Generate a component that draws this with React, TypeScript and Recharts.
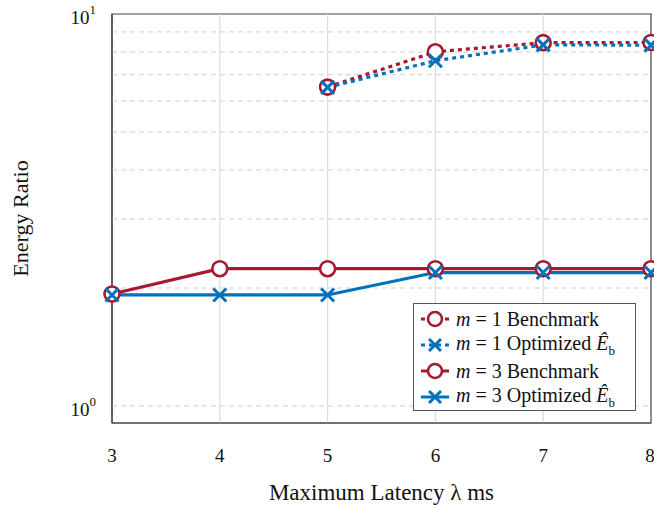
import { LineChart, Line, XAxis, YAxis, ReferenceLine, ReferenceArea } from "recharts";

const latency = [3, 4, 5, 6, 7, 8];
const benchM1 = [null, null, 6.51, 8.01, 8.45, 8.46];
const optM1 = [null, null, 6.5, 7.6, 8.34, 8.33];
const benchM3 = [1.93, 2.24, 2.24, 2.24, 2.24, 2.24];
const optM3 = [1.92, 1.92, 1.92, 2.19, 2.19, 2.19];

const xTicks = [3, 4, 5, 6, 7, 8];
const yTicks = [1, 10];
const yGrid = [1, 2, 3, 4, 5, 6, 7, 8, 9];
const xGrid = [4, 5, 6, 7];

const RED = "#A6192E";
const BLUE = "#0072BD";
const FONT = "'Liberation Serif', serif";

const data = latency.map((x, i) => ({
  x,
  b1: benchM1[i],
  o1: optM1[i],
  b3: benchM3[i],
  o3: optM3[i],
}));

function CircleDot(props: any) {
  const { cx, cy, index, value } = props;
  if (value == null || cy == null) return <g key={index} />;
  return <circle key={index} cx={cx} cy={cy} r={7.5} fill="#fff" stroke={RED} strokeWidth={2.6} />;
}

function CrossDot(props: any) {
  const { cx, cy, index, value } = props;
  if (value == null || cy == null) return <g key={index} />;
  const s = 6.5;
  return (
    <g key={index} stroke={BLUE} strokeWidth={3}>
      <line x1={cx - s} y1={cy - s} x2={cx + s} y2={cy + s} />
      <line x1={cx - s} y1={cy + s} x2={cx + s} y2={cy - s} />
    </g>
  );
}

function XTick({ x, y, payload }: any) {
  return (
    <text x={x} y={y + 24} textAnchor="middle" dominantBaseline="central" fontFamily={FONT} fontSize={19} fill="#111">
      {payload.value}
    </text>
  );
}

function YTick({ y, payload }: any) {
  const exp = Math.round(Math.log10(payload.value));
  return (
    <text x={96} y={y + 3} textAnchor="end" dominantBaseline="central" fontFamily={FONT} fontSize={19} fill="#111">
      10<tspan dy={-8} fontSize={13}>{exp}</tspan>
    </text>
  );
}

function YLabel({ viewBox }: any) {
  const cx = 20;
  const cy = viewBox.y + viewBox.height / 2;
  return (
    <text
      x={cx}
      y={cy}
      transform={`rotate(-90, ${cx}, ${cy})`}
      textAnchor="middle"
      dominantBaseline="central"
      fontFamily={FONT}
      fontSize={22}
      fill="#111"
    >
      Energy Ratio
    </text>
  );
}

const legendItems = [
  { label: "Benchmark", m: 1, color: RED, dash: true, circle: true },
  { label: "Optimized", m: 1, color: BLUE, dash: true, circle: false },
  { label: "Benchmark", m: 3, color: RED, dash: false, circle: true },
  { label: "Optimized", m: 3, color: BLUE, dash: false, circle: false },
];

function LegendBox() {
  return (
    <div
      style={{
        position: "absolute",
        left: 413,
        top: 303,
        boxSizing: "border-box",
        width: 223,
        height: 108,
        border: "1px solid #555",
        background: "#fff",
        padding: "2px 6px",
        fontFamily: FONT,
        fontSize: 20,
        color: "#111",
      }}
    >
      {legendItems.map((it, i) => (
        <div key={i} style={{ display: "flex", alignItems: "center", height: 26, whiteSpace: "nowrap" }}>
          <svg width={30} height={20} style={{ marginRight: 6, flexShrink: 0 }}>
            <line x1={1} y1={10} x2={29} y2={10} stroke={it.color} strokeWidth={3} strokeDasharray={it.dash ? "4 4" : undefined} />
            {it.circle ? (
              <circle cx={15} cy={10} r={7} fill="#fff" stroke={it.color} strokeWidth={2.6} />
            ) : (
              <g stroke={it.color} strokeWidth={3}>
                <line x1={9} y1={4} x2={21} y2={16} />
                <line x1={9} y1={16} x2={21} y2={4} />
              </g>
            )}
          </svg>
          <span>
            <i>m</i> = {it.m} {it.label}
            {!it.circle && (
              <>
                {" "}
                <i>Ê</i>
                <sub style={{ fontSize: 13 }}>b</sub>
              </>
            )}
          </span>
        </div>
      ))}
    </div>
  );
}

export default function App() {
  return (
    <div style={{ position: "absolute", left: 0, top: 0, width: 654, height: 506, background: "#fff" }}>
      <LineChart width={654} height={506} data={data} margin={{ top: 14, right: 3, bottom: 0, left: 0 }}>
        <XAxis
          dataKey="x"
          type="number"
          domain={[3, 8]}
          ticks={xTicks}
          tick={<XTick />}
          tickLine={false}
          axisLine={{ stroke: "#444", strokeWidth: 1.2 }}
          height={83}
          label={{ value: "Maximum Latency λ ms", position: "insideBottom", offset: 6, fontFamily: FONT, fontSize: 23, fill: "#111" }}
        />
        <YAxis
          type="number"
          scale="log"
          domain={[0.905, 10]}
          allowDataOverflow
          ticks={yTicks}
          tick={<YTick />}
          tickLine={false}
          axisLine={{ stroke: "#444", strokeWidth: 1.2 }}
          width={112}
          label={<YLabel />}
        />
        {xGrid.map((v) => (
          <ReferenceLine key={"vx" + v} x={v} stroke="#dcdcdc" strokeWidth={1.2} />
        ))}
        {yGrid.map((v) => (
          <ReferenceLine key={"hy" + v} y={v} stroke="#cfcfcf" strokeWidth={1} strokeDasharray="5 4" />
        ))}
        <ReferenceArea x1={3} x2={8} y1={0.905} y2={10} fill="none" fillOpacity={0} stroke="#444" strokeWidth={1.2} />
        <Line dataKey="b1" stroke={RED} strokeWidth={3.2} strokeDasharray="4 4" dot={<CircleDot />} isAnimationActive={false} />
        <Line dataKey="o1" stroke={BLUE} strokeWidth={3.2} strokeDasharray="4 4" dot={<CrossDot />} isAnimationActive={false} />
        <Line dataKey="b3" stroke={RED} strokeWidth={3.2} dot={<CircleDot />} isAnimationActive={false} />
        <Line dataKey="o3" stroke={BLUE} strokeWidth={3.2} dot={<CrossDot />} isAnimationActive={false} />
      </LineChart>
      <LegendBox />
    </div>
  );
}
